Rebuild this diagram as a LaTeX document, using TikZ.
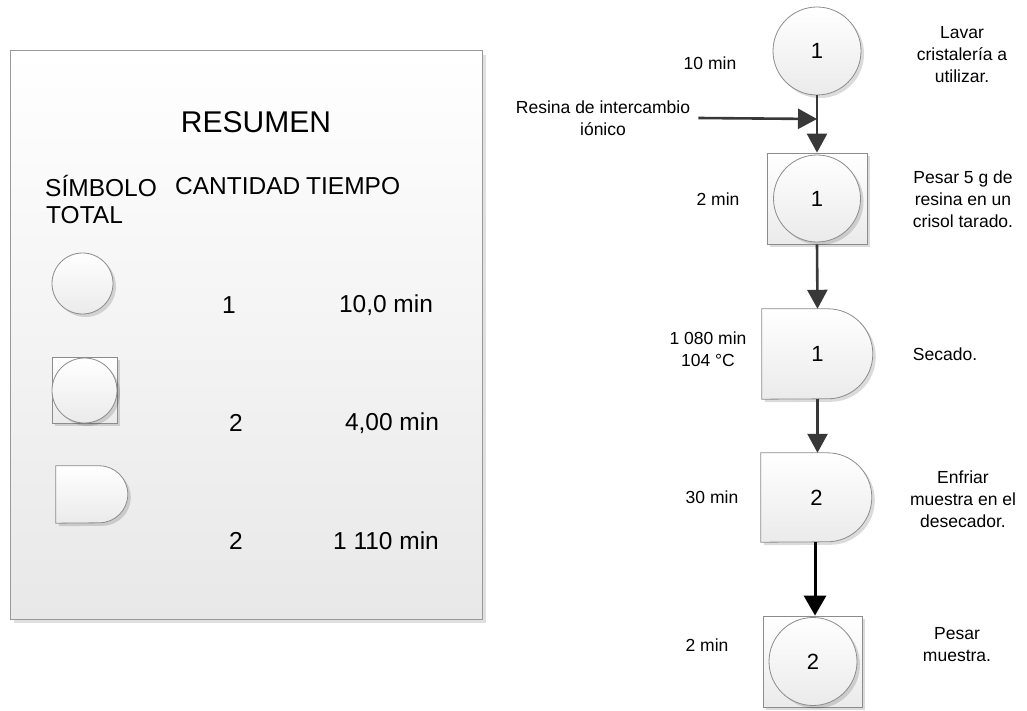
\documentclass[tikz,border=0pt]{standalone}
\usepackage{fontspec}
\setmainfont{Liberation Sans}
\usetikzlibrary{arrows.meta,shadows,backgrounds}
\begin{document}
\begin{tikzpicture}[x=1pt,y=-1pt,
  flowshape/.style={draw=black!45, line width=0.8pt, top color=white, bottom color=black!8,
    drop shadow={shadow xshift=3pt, shadow yshift=-3pt, opacity=0.14, fill=black}},
  procircle/.style={flowshape, circle, inner sep=0pt, font=\fontsize{22}{26}\selectfont},
  boxsq/.style={flowshape, rectangle, inner sep=0pt},
  dslot/.style={rectangle, inner sep=0pt, font=\fontsize{22}{26}\selectfont},
  panel/.style={draw=black!40, line width=1pt, top color=white, bottom color=black!9,
    drop shadow={shadow xshift=4pt, shadow yshift=-4pt, opacity=0.12, fill=black}},
  flow/.style={draw=black!78, line width=2.6pt, -{Triangle[length=19pt,width=20pt]}},
  flowdark/.style={draw=black, line width=3pt, -{Triangle[length=20pt,width=22pt]}},
  lbl/.style={font=\fontsize{17.5}{22}\selectfont, align=center, inner sep=0pt},
  head/.style={font=\fontsize{24.5}{29}\selectfont, inner sep=0pt},
]
\useasboundingbox (0,0) rectangle (1027,711);

% ---------- summary panel ----------
\node[panel, minimum width=472pt, minimum height=568pt] (panel) at (246,335) {};
\node[font=\fontsize{30}{36}\selectfont, inner sep=0pt] (title) at (256,122) {RESUMEN};
\node[head, anchor=west] (hsym) at (45,186) {SÍMBOLO};
\node[head, anchor=west] (htot) at (46,215) {TOTAL};
\node[head, anchor=west] (hcant) at (175,186) {CANTIDAD};
\node[head, anchor=west] (htime) at (306,186) {TIEMPO};

% legend symbols
\node[flowshape, circle, inner sep=0pt, minimum size=61pt] (lop) at (82.5,283.5) {};
\node[boxsq, minimum width=65pt, minimum height=66pt] (lbox) at (84.5,390) {};
\node[flowshape, circle, inner sep=0pt, minimum size=65pt] (linsp) at (84.5,390.5) {};
\node[dslot, minimum width=72pt, minimum height=57pt] (ldel) at (92,494.5) {};
\path[flowshape] (ldel.north west) -- ++(43.5,0)
  arc[start angle=90, end angle=-90, radius=28.5pt] -- (ldel.south west) -- cycle;

% legend counts and times
\node[head] (n1) at (229,305) {1};
\node[head] (t1) at (386,305) {10,0 min};
\node[head] (n2) at (236,423) {2};
\node[head] (t2) at (392,423) {4,00 min};
\node[head] (n3) at (236,541) {2};
\node[head] (t3) at (386,541) {1 110 min};

% ---------- process chart ----------
\node[procircle, minimum size=88pt] (c1) at (817,51) {1};

\node[boxsq, minimum width=100pt, minimum height=91pt] (b2) at (817,198.5) {};
\node[procircle, minimum size=87pt] (c2) at (817,198.5) {1};

\node[dslot, minimum width=111pt, minimum height=90pt] (d1) at (817.5,354) {1};
\node[dslot, minimum width=111pt, minimum height=89pt] (d2) at (816.5,497.5) {2};
\begin{pgfonlayer}{background}
  \path[flowshape] (d1.north west) -- ++(66,0)
    arc[start angle=90, end angle=-90, radius=45pt] -- (d1.south west) -- cycle;
  \path[flowshape] (d2.north west) -- ++(66.5,0)
    arc[start angle=90, end angle=-90, radius=44.5pt] -- (d2.south west) -- cycle;
\end{pgfonlayer}

\node[boxsq, minimum width=99pt, minimum height=91pt] (b3) at (812.5,661.5) {};
\node[procircle, minimum size=88pt] (c3) at (813,661.5) {2};

% incoming material
\node[lbl] (resina) at (603,118) {Resina de intercambio\\iónico};
\coordinate (join) at (817,119);

% connectors
\draw[flow] (c1.south) -- (b2.north);
\draw[flow] ([xshift=8pt]resina.east) -- (join);
\draw[flow] (b2.south) -- (d1.north);
\draw[flow] (d1.south) -- (d1.south |- d2.north);
\draw[flowdark] ([xshift=-1.5pt]d2.south) -- ([xshift=-1.5pt]d2.south |- b3.north);

% times
\node[lbl] (tm1) at (710,63) {10 min};
\node[lbl] (tm2) at (718,199) {2 min};
\node[lbl] (tm3) at (708,349) {1 080 min\\104 °C};
\node[lbl] (tm4) at (712,497) {30 min};
\node[lbl] (tm5) at (707,645) {2 min};

% descriptions
\node[lbl] (ds1) at (962,55) {Lavar\\cristalería a\\utilizar.};
\node[lbl] (ds2) at (963,199) {Pesar 5 g de\\resina en un\\crisol tarado.};
\node[lbl] (ds3) at (945,354) {Secado.};
\node[lbl] (ds4) at (963,499) {Enfriar\\muestra en el\\desecador.};
\node[lbl] (ds5) at (957,645) {Pesar\\muestra.};
\end{tikzpicture}
\end{document}
